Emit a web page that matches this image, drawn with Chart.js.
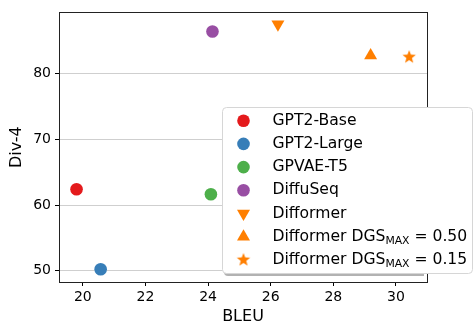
<!DOCTYPE html>
<html>
<head>
<meta charset="utf-8">
<script src="https://cdn.jsdelivr.net/npm/chart.js@4/dist/chart.umd.min.js"></script>
<style>
  html, body { margin: 0; padding: 0; background: #fff; }
  #wrap { width: 473px; height: 325px; }
</style>
</head>
<body>
<div id="wrap"><canvas id="grafico" width="473" height="325"></canvas></div>
<script>
// datos
const categories = ['GPT2-Base', 'GPT2-Large', 'GPVAE-T5', 'DiffuSeq', 'Difformer',
  'Difformer DGS_{MAX} = 0.50', 'Difformer DGS_{MAX} = 0.15'];
const bleu = [19.8, 20.57, 24.09, 24.14, 26.23, 29.19, 30.42];
const div4 = [62.4, 50.25, 61.65, 86.4, 87.5, 82.75, 82.5];
const xTicks = [20, 22, 24, 26, 28, 30];
const yTicks = [50, 60, 70, 80];

// estilos
const colors = ['#e41a1c', '#377eb8', '#4daf4a', '#984ea3', '#ff7f00', '#ff7f00', '#ff7f00'];
const markers = ['circle', 'circle', 'circle', 'circle', 'down', 'triangle', 'star'];
const FONT = "'DejaVu Sans', sans-serif";

// estrella rellena (el 'star' de Chart.js no es relleno)
function starCanvas(color, R) {
  const c = document.createElement('canvas');
  const s = Math.ceil(R * 2 + 2);
  c.width = s; c.height = s;
  const g = c.getContext('2d');
  g.fillStyle = color;
  g.beginPath();
  for (let i = 0; i < 10; i++) {
    const r = i % 2 === 0 ? R : R * 0.42;
    const a = -Math.PI / 2 + i * Math.PI / 5;
    const px = s / 2 + r * Math.cos(a), py = s / 2 + r * Math.sin(a);
    i === 0 ? g.moveTo(px, py) : g.lineTo(px, py);
  }
  g.closePath();
  g.fill();
  return c;
}
const star = starCanvas('#ff7f00', 7);

function pointStyleOf(m) {
  if (m === 'star') return star;
  if (m === 'down') return 'triangle';
  return m;
}

const datasets = categories.map((name, i) => ({
  label: name,
  data: [{ x: bleu[i], y: div4[i] }],
  backgroundColor: colors[i],
  borderColor: colors[i],
  borderWidth: 0,
  pointStyle: pointStyleOf(markers[i]),
  pointRadius: markers[i] === 'circle' ? 6.3 : 7.5,
  rotation: markers[i] === 'down' ? 180 : 0
}));

// marco completo del área
const marco = {
  id: 'marco',
  afterDatasetsDraw(chart) {
    const { ctx, chartArea: a } = chart;
    ctx.save();
    ctx.strokeStyle = '#222';
    ctx.lineWidth = 1;
    ctx.strokeRect(Math.round(a.left) + 0.5, Math.round(a.top) + 0.5,
      Math.round(a.right - a.left), Math.round(a.bottom - a.top));
    ctx.restore();
  }
};

function drawMarker(ctx, m, color, x, y) {
  ctx.fillStyle = color;
  if (m === 'star') { ctx.drawImage(star, x - star.width / 2, y - star.height / 2); return; }
  ctx.beginPath();
  if (m === 'circle') {
    ctx.arc(x, y, 6.3, 0, Math.PI * 2);
  } else {
    const r = 7.5, rot = m === 'down' ? Math.PI : 0;
    for (let k = 0; k < 3; k++) {
      const a = rot + k * 2 * Math.PI / 3;
      const px = x + Math.sin(a) * r, py = y - Math.cos(a) * r;
      k === 0 ? ctx.moveTo(px, py) : ctx.lineTo(px, py);
    }
    ctx.closePath();
  }
  ctx.fill();
}

// leyenda propia (para el subíndice MAX)
const leyenda = {
  id: 'leyenda',
  afterDraw(chart) {
    const ctx = chart.ctx;
    const bx = 222, by = 107, bw = 250, bh = 166;
    ctx.save();
    // sombra, recortada al borde derecho del área
    ctx.save();
    ctx.beginPath(); ctx.rect(0, 0, chart.chartArea.right - 3, 325); ctx.clip();
    ctx.fillStyle = 'rgba(0,0,0,0.3)';
    ctx.beginPath(); ctx.roundRect(bx + 2, by + 3, bw, bh, 4); ctx.fill();
    ctx.restore();
    ctx.fillStyle = '#fff';
    ctx.strokeStyle = '#d6d6d6';
    ctx.lineWidth = 1;
    ctx.beginPath(); ctx.roundRect(bx + 0.5, by + 0.5, bw, bh, 4); ctx.fill(); ctx.stroke();

    ctx.textBaseline = 'middle';
    ctx.textAlign = 'left';
    chart.data.datasets.forEach((ds, i) => {
      const y = 120.7 + i * 23.2;
      drawMarker(ctx, markers[i], colors[i], 243.5, y);
      ctx.fillStyle = '#000';
      const partes = ds.label.split(/_\{|\}/);
      let x = 272.5;
      ctx.font = '15.6px ' + FONT;
      ctx.fillText(partes[0], x, y);
      if (partes.length > 1) {
        x += ctx.measureText(partes[0]).width;
        ctx.font = '10.8px ' + FONT;
        ctx.fillText(partes[1], x, y + 4);
        x += ctx.measureText(partes[1]).width;
        ctx.font = '15.6px ' + FONT;
        ctx.fillText(partes[2], x, y);
      }
    });
    ctx.restore();
  }
};

new Chart(document.getElementById('grafico'), {
  type: 'scatter',
  data: { datasets },
  options: {
    responsive: false,
    animation: false,
    events: [],
    layout: { padding: { top: 9, right: 46, left: 0, bottom: 0 } },
    plugins: {
      legend: { display: false },
      tooltip: { enabled: false }
    },
    scales: {
      x: {
        min: 19.24,
        max: 30.99,
        afterBuildTicks: s => { s.ticks = xTicks.map(v => ({ value: v })); },
        afterFit: s => { s.height = 43; },
        grid: { drawOnChartArea: false, tickLength: 4, tickColor: '#000' },
        border: { color: '#222' },
        ticks: { color: '#000', padding: 3, maxRotation: 0, font: { family: FONT, size: 14 } },
        title: { display: true, text: 'BLEU', color: '#000', padding: { top: 0, bottom: 0 }, font: { family: FONT, size: 16, lineHeight: 1 } }
      },
      y: {
        min: 48.3,
        max: 89.3,
        afterBuildTicks: s => { s.ticks = yTicks.map(v => ({ value: v })); },
        afterFit: s => { s.width = 59; },
        grid: { color: '#cfcfcf', lineWidth: 1, tickLength: 4, tickColor: '#000' },
        border: { color: '#222' },
        ticks: { color: '#000', padding: 4, font: { family: FONT, size: 14 } },
        title: { display: true, text: 'Div-4', color: '#000', padding: { top: 9, bottom: 0 }, font: { family: FONT, size: 16, lineHeight: 1 } }
      }
    }
  },
  plugins: [marco, leyenda]
});
</script>
</body>
</html>
